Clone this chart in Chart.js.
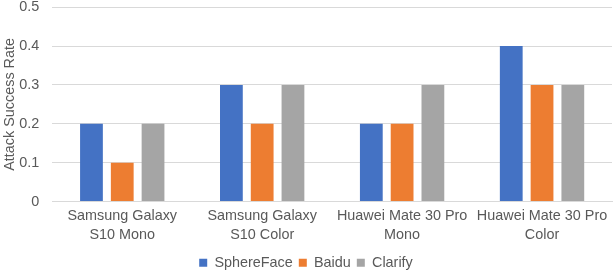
<!DOCTYPE html>
<html><head><meta charset="utf-8">
<script src="https://cdn.jsdelivr.net/npm/chart.js@4/dist/chart.umd.min.js"></script>
<style>html,body{margin:0;padding:0;background:#fff;overflow:hidden}#w{width:614px;height:272px}</style>
</head><body><div id="w"><canvas id="c"></canvas></div>
<script>
const categories = [["Samsung Galaxy","S10 Mono"],["Samsung Galaxy","S10 Color"],["Huawei Mate 30 Pro","Mono"],["Huawei Mate 30 Pro","Color"]];
const sphereFace = [0.2,0.3,0.2,0.4];
const baidu = [0.1,0.2,0.2,0.3];
const clarify = [0.2,0.3,0.3,0.3];
const yTicks = [0,0.1,0.2,0.3,0.4,0.5];
Chart.defaults.font.family = "'Liberation Sans', Arial, sans-serif";
Chart.defaults.color = '#595959';
const FS = 14.4;
new Chart(document.getElementById('c'), {
  type: 'bar',
  data: { labels: categories, datasets: [
    {label:'SphereFace', data: sphereFace, backgroundColor:'#4472C4'},
    {label:'Baidu', data: baidu, backgroundColor:'#ED7D31'},
    {label:'Clarify', data: clarify, backgroundColor:'#A5A5A5'}
  ]},
  options: {
    responsive:true, maintainAspectRatio:false, animation:false,
    layout:{padding:{top:0,right:2,left:0,bottom:-8}},
    datasets:{bar:{categoryPercentage:0.66,barPercentage:0.74}},
    plugins:{
      legend:{position:'bottom',labels:{boxWidth:8,boxHeight:8,font:{size:FS},padding:6,color:'#595959'}},
      tooltip:{enabled:false}
    },
    scales:{
      x:{grid:{display:false,drawTicks:false,tickLength:0},border:{color:'#d9d9d9'},
         ticks:{font:{size:FS,lineHeight:1.32},maxRotation:0,autoSkip:false,padding:5}},
      y:{min:0,max:0.5,
        afterBuildTicks: s => { s.ticks = yTicks.map(v=>({value:v})); },
        ticks:{font:{size:FS,lineHeight:1},padding:0,callback:v=>String(v)},
        grid:{color:'#d9d9d9',drawTicks:true,tickLength:13,tickColor:'rgba(0,0,0,0)'},border:{display:false},
        title:{display:true,text:'Attack Success Rate',font:{size:FS,lineHeight:1.2},padding:{top:1,bottom:1}}}
    }
  }
});
</script></body></html>
